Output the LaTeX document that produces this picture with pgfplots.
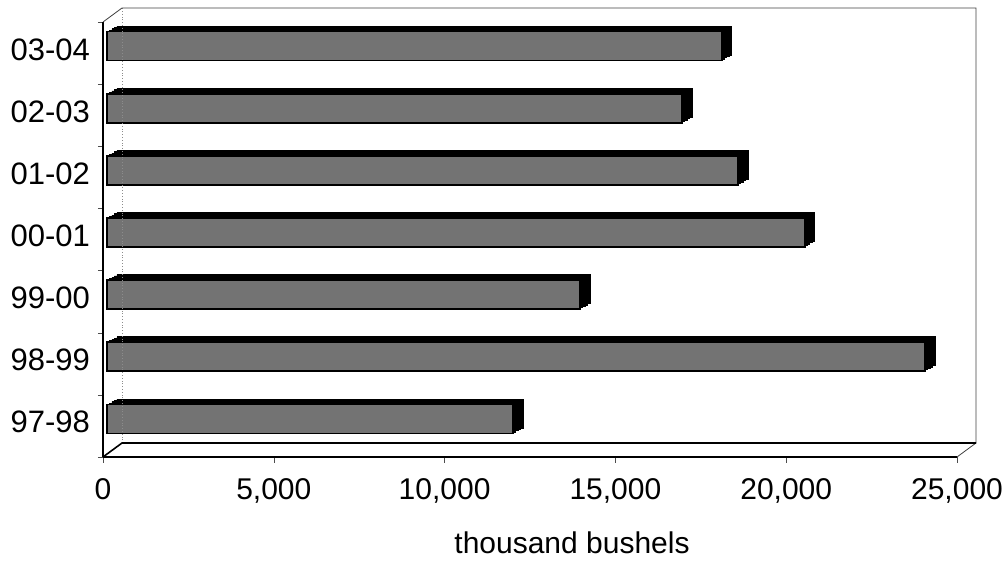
\documentclass[border=0pt]{standalone}
\usepackage{pgfplots}
\usepackage{pgfplotstable}
\pgfplotsset{compat=1.18}
\usepackage{fontspec}
\setmainfont{Liberation Sans}

% crop per season, thousand bushels
\pgfplotstableread{
pos value
0 11890
1 23950
2 13850
3 20430
4 18470
5 16830
6 18000
}\bardata

\begin{document}
\begin{tikzpicture}
\useasboundingbox (0,0) rectangle (503pt,280.5pt);
\begin{axis}[
    at={(51.5pt,52pt)}, anchor=south west,
    scale only axis, width=427pt, height=217.5pt,
    xmin=0, xmax=25000, ymin=-0.5, ymax=6.5,
    clip=false,
    axis x line*=bottom, axis y line*=left,
    axis line style={-, black, line width=0.8pt},
    xtick={0,5000,10000,15000,20000,25000},
    scaled x ticks=false,
    /pgf/number format/assume math mode=true,
    ytick={0,...,6},
    yticklabels={97-98,98-99,99-00,00-01,01-02,02-03,03-04},
    minor ytick={-0.5,0.5,...,6.5},
    major y tick style={draw=none},
    tick align=outside,
    major tick length=3pt, minor tick length=2.5pt,
    tick style={black!70},
    yticklabel style={font=\fontsize{15.5}{17}\selectfont, yshift=1.8pt},
    xticklabel style={font=\fontsize{15}{17}\selectfont, yshift=-4pt},
    xlabel={thousand bushels},
    xlabel style={font=\fontsize{15}{17}\selectfont, at={(axis description cs:0.5,0)}, anchor=center, xshift=21pt, yshift=-43pt},
]
% back faces of the bars (depth)
\addplot[xbar, bar width=14.5pt, fill=black, draw=black, xshift=3.25pt, yshift=4.2pt] table[x=value,y=pos] {\bardata};
\addplot[xbar, bar width=14.5pt, fill=black, draw=black, xshift=4.5pt, yshift=4.9pt] table[x=value,y=pos] {\bardata};
\addplot[xbar, bar width=14.5pt, fill=black, draw=black, xshift=5.75pt, yshift=5.6pt] table[x=value,y=pos] {\bardata};
\addplot[xbar, bar width=14.5pt, fill=black, draw=black, xshift=7pt, yshift=6.2pt] table[x=value,y=pos] {\bardata};
% front faces
\addplot[xbar, bar width=14.5pt, fill=black!55, draw=black, line width=0.9pt, xshift=2pt, yshift=3.5pt] table[x=value,y=pos] {\bardata};
% 3d box
\draw[black!45, densely dotted] ([shift={(9.5pt,7pt)}]rel axis cs:0,0) -- ([shift={(9.5pt,7pt)}]rel axis cs:0,1);
\draw[black!75] (rel axis cs:0,1) -- ([shift={(9.5pt,7pt)}]rel axis cs:0,1)
    -- ([shift={(9.5pt,7pt)}]rel axis cs:1,1) -- ([shift={(9.5pt,7pt)}]rel axis cs:1,0) -- (rel axis cs:1,0);
\draw[black, line width=0.8pt] (rel axis cs:0,0) -- ([shift={(9.5pt,7pt)}]rel axis cs:0,0) -- ([shift={(9.5pt,7pt)}]rel axis cs:1,0);
\end{axis}
\end{tikzpicture}
\end{document}
